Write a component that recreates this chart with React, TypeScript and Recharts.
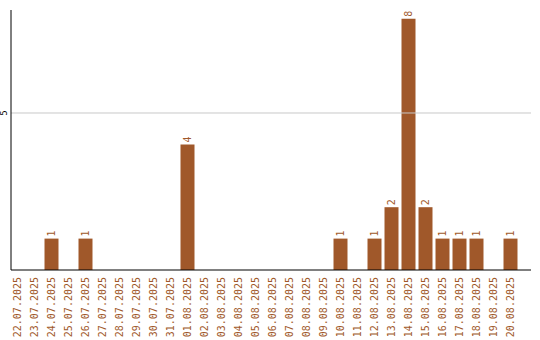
import React from "react";
import { BarChart, Bar, XAxis, YAxis, ReferenceLine, LabelList } from "recharts";

const dates = [
  "22.07.2025", "23.07.2025", "24.07.2025", "25.07.2025", "26.07.2025", "27.07.2025",
  "28.07.2025", "29.07.2025", "30.07.2025", "31.07.2025", "01.08.2025", "02.08.2025",
  "03.08.2025", "04.08.2025", "05.08.2025", "06.08.2025", "07.08.2025", "08.08.2025",
  "09.08.2025", "10.08.2025", "11.08.2025", "12.08.2025", "13.08.2025", "14.08.2025",
  "15.08.2025", "16.08.2025", "17.08.2025", "18.08.2025", "19.08.2025", "20.08.2025",
];
const counts = [0, 0, 1, 0, 1, 0, 0, 0, 0, 0, 4, 0, 0, 0, 0, 0, 0, 0, 0, 1, 0, 1, 2, 8, 2, 1, 1, 1, 0, 1];
const yTicks = [5];

const data = dates.map((d, i) => ({ date: d, value: counts[i] }));

const BROWN = "#a0582a";

const XTick = (props: any) => {
  const { x, payload } = props;
  return (
    <text
      x={0}
      y={0}
      transform={`translate(${x},277) rotate(-90)`}
      textAnchor="end"
      dominantBaseline="central"
      fontSize={10}
      fontFamily="DejaVu Sans Mono"
      fill={BROWN}
    >
      {payload.value}
    </text>
  );
};

const YTick = (props: any) => {
  const { y, payload } = props;
  return (
    <text
      x={0}
      y={0}
      transform={`translate(4,${y}) rotate(-90)`}
      textAnchor="middle"
      dominantBaseline="central"
      fontSize={8}
      fontFamily="DejaVu Sans"
      fill="#000"
    >
      {payload.value}
    </text>
  );
};

const ValueLabel = (props: any) => {
  const { x, y, width, value } = props;
  if (!value) return null;
  return (
    <text
      x={0}
      y={0}
      transform={`translate(${x + width / 2},${y - 2}) rotate(-90)`}
      textAnchor="start"
      dominantBaseline="central"
      fontSize={10}
      fontFamily="DejaVu Sans Mono"
      fill={BROWN}
    >
      {value}
    </text>
  );
};

export default function App() {
  return (
    <div style={{ position: "absolute", left: 0, top: 0, background: "#fff" }}>
      <BarChart
        width={540}
        height={340}
        data={data}
        margin={{ top: 10, right: 9, bottom: 0, left: 0 }}
      >
        <ReferenceLine y={5} stroke="#c8c8c8" strokeWidth={1} />
        <XAxis
          dataKey="date"
          interval={0}
          height={70}
          tickLine={false}
          axisLine={{ stroke: "#000" }}
          tick={<XTick />}
          padding={{ left: -2.5, right: 12.5 }}
        />
        <YAxis
          width={11}
          domain={[0, 8.28]}
          ticks={yTicks}
          tickLine={false}
          axisLine={{ stroke: "#000" }}
          tick={<YTick />}
          allowDataOverflow
        />
        <Bar dataKey="value" fill={BROWN} barSize={14} isAnimationActive={false}>
          <LabelList dataKey="value" content={<ValueLabel />} />
        </Bar>
      </BarChart>
    </div>
  );
}
